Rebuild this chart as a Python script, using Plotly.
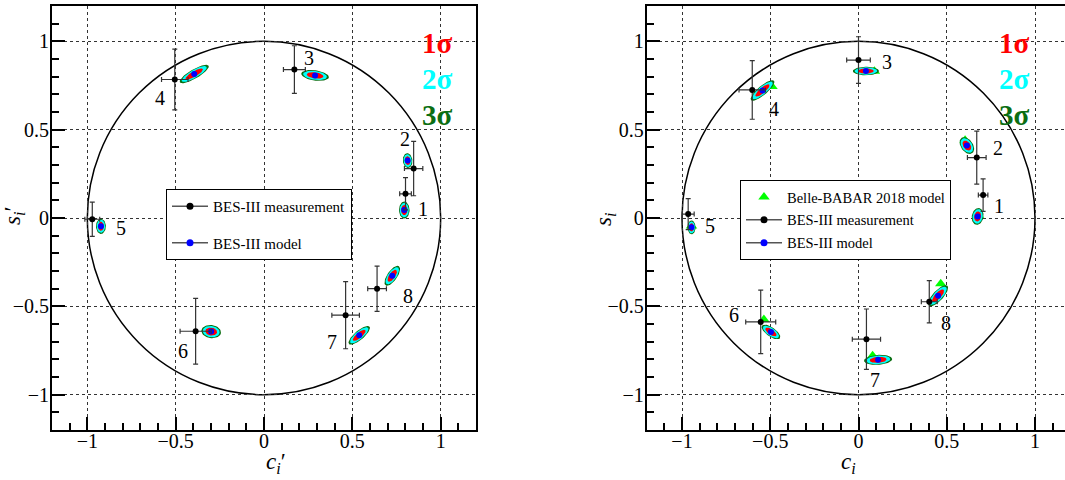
import numpy as np
import plotly.graph_objects as go

W, H = 1065, 480

bins = ["1", "2", "3", "4", "5", "6", "7", "8"]

# ---- left panel: c_i', s_i' ----
cp_meas = [0.801, 0.847, 0.172, -0.505, -0.972, -0.387, 0.462, 0.640]
sp_meas = [0.137, 0.280, 0.840, 0.784, -0.007, -0.641, -0.550, -0.400]
cp_err = [0.033, 0.052, 0.062, 0.075, 0.042, 0.088, 0.078, 0.053]
sp_err = [0.091, 0.154, 0.135, 0.172, 0.097, 0.186, 0.190, 0.128]

cp_model = [0.794, 0.813, 0.289, -0.395, -0.923, -0.299, 0.539, 0.726]
sp_model = [0.045, 0.325, 0.807, 0.815, -0.047, -0.643, -0.664, -0.327]

# 3-sigma contour semi-axes and orientation (degrees) around the model points
cp_ax_major = [0.048, 0.042, 0.079, 0.094, 0.043, 0.056, 0.076, 0.066]
cp_ax_minor = [0.030, 0.027, 0.029, 0.026, 0.028, 0.037, 0.026, 0.028]
cp_ax_angle = [90, 95, -8, 30, 90, -8, 40, 55]

cp_label_x = [0.900, 0.799, 0.255, -0.590, -0.812, -0.460, 0.387, 0.816]
cp_label_y = [0.051, 0.448, 0.904, 0.682, -0.059, -0.752, -0.703, -0.444]

# ---- right panel: c_i, s_i ----
c_meas = [0.706, 0.670, 0.000, -0.602, -0.965, -0.554, 0.045, 0.401]
s_meas = [0.130, 0.342, 0.894, 0.725, 0.022, -0.588, -0.686, -0.474]
c_err = [0.027, 0.053, 0.067, 0.075, 0.034, 0.085, 0.080, 0.045]
s_err = [0.092, 0.150, 0.132, 0.166, 0.088, 0.180, 0.171, 0.120]

c_model = [0.675, 0.614, 0.042, -0.544, -0.946, -0.496, 0.111, 0.451]
s_model = [0.009, 0.410, 0.832, 0.722, -0.053, -0.645, -0.803, -0.440]

c_bb = [0.680, 0.604, 0.090, -0.490, -0.946, -0.536, 0.080, 0.466]
s_bb = [0.015, 0.440, 0.830, 0.745, -0.045, -0.575, -0.780, -0.372]

c_ax_major = [0.048, 0.053, 0.074, 0.085, 0.039, 0.062, 0.080, 0.077]
c_ax_minor = [0.033, 0.034, 0.024, 0.026, 0.023, 0.026, 0.028, 0.029]
c_ax_angle = [80, 125, 0, 40, 90, -35, 4, 47]

c_label_x = [0.795, 0.793, 0.163, -0.480, -0.842, -0.708, 0.092, 0.494]
c_label_y = [0.070, 0.397, 0.885, 0.618, -0.047, -0.548, -0.917, -0.592]

sigma_levels = ["3σ", "2σ", "1σ"]
sigma_scale = [1.0, 0.86, 0.60]
sigma_colors = {"1σ": "#ff0000", "2σ": "#00ffff", "3σ": "#0b6e12"}

FONT = "Liberation Serif, Times New Roman, serif"


def ellipse_paths(cx, cy, a, b, ang, k):
    xs, ys = [], []
    t = np.linspace(0, 2 * np.pi, 60)
    for x0, y0, aa, bb, th in zip(cx, cy, a, b, ang):
        r = np.deg2rad(th)
        ex = aa * k * np.cos(t)
        ey = bb * k * np.sin(t)
        xs += list(x0 + ex * np.cos(r) - ey * np.sin(r)) + [None]
        ys += list(y0 + ex * np.sin(r) + ey * np.cos(r)) + [None]
    return xs, ys


fig = go.Figure()


def add_panel(xa, ya, mx, my, mex, mey, px, py, a, b, ang, legend, bb=None):
    if bb is not None:
        fig.add_trace(go.Scatter(
            x=bb[0], y=bb[1], mode="markers", xaxis=xa, yaxis=ya,
            marker=dict(symbol="triangle-up", size=10, color="#00ff00"),
            showlegend=False, hoverinfo="skip"))
    for lev, k in zip(sigma_levels, sigma_scale):
        ex, ey = ellipse_paths(px, py, a, b, ang, k)
        fig.add_trace(go.Scatter(
            x=ex, y=ey, mode="lines", fill="toself", xaxis=xa, yaxis=ya,
            fillcolor=sigma_colors[lev], line=dict(width=0, color=sigma_colors[lev]),
            showlegend=False, hoverinfo="skip"))
    fig.add_trace(go.Scatter(
        x=px, y=py, mode="markers", xaxis=xa, yaxis=ya,
        marker=dict(size=6, color="#0000ff"), showlegend=False))
    fig.add_trace(go.Scatter(
        x=mx, y=my, mode="markers", xaxis=xa, yaxis=ya,
        marker=dict(size=6, color="black"),
        error_x=dict(type="data", array=mex, color="#333333", thickness=1.2, width=2.5),
        error_y=dict(type="data", array=mey, color="#333333", thickness=1.2, width=2.5),
        showlegend=False))
    # legend-only entries
    if bb is not None:
        fig.add_trace(go.Scatter(
            x=[None], y=[None], mode="markers", xaxis=xa, yaxis=ya,
            marker=dict(symbol="triangle-up", size=10, color="#00ff00"),
            name="Belle-BABAR 2018 model", legend=legend, legendgroup="g0" + legend))
    fig.add_trace(go.Scatter(
        x=[None], y=[None], mode="lines+markers", xaxis=xa, yaxis=ya,
        line=dict(color="#555555", width=1.5), marker=dict(size=7, color="black"),
        name="BES-III measurement", legend=legend, legendgroup="g1" + legend))
    fig.add_trace(go.Scatter(
        x=[None], y=[None], mode="lines+markers", xaxis=xa, yaxis=ya,
        line=dict(color="#555555", width=1.5), marker=dict(size=7, color="#0000ff"),
        name="BES-III model", legend=legend, legendgroup="g2" + legend))


add_panel("x", "y", cp_meas, sp_meas, cp_err, sp_err, cp_model, sp_model,
          cp_ax_major, cp_ax_minor, cp_ax_angle, "legend")
add_panel("x2", "y2", c_meas, s_meas, c_err, s_err, c_model, s_model,
          c_ax_major, c_ax_minor, c_ax_angle, "legend2", bb=(c_bb, s_bb))

axis_style = dict(
    showline=True, linecolor="black", linewidth=2,
    ticks="inside", ticklen=13, tickwidth=1.5, tickcolor="black",
    tick0=0, dtick=0.5,
    minor=dict(ticks="inside", ticklen=7, tickwidth=1.5, tickcolor="black",
               tick0=0, dtick=0.1, showgrid=False),
    showgrid=True, gridcolor="#333333", griddash="dot", gridwidth=1,
    zeroline=False,
    tickfont=dict(family=FONT, size=20, color="black"),
)
x_style = dict(axis_style, ticklabelstandoff=-8)
y_style = dict(axis_style, ticklabelstandoff=-3)

ydom = [1 - 430 / H, 1 - 6 / H]
fig.update_layout(
    width=W, height=H,
    margin=dict(l=0, r=0, t=0, b=0),
    paper_bgcolor="white", plot_bgcolor="white",
    showlegend=True,
    xaxis=dict(domain=[52 / W, 476 / W], range=[-1.2, 1.2], anchor="y", mirror=True, **x_style),
    yaxis=dict(domain=ydom, range=[-1.2, 1.2], anchor="x", mirror=True, **y_style),
    xaxis2=dict(domain=[646.7 / W, 1.0], range=[-1.2, 1.17], anchor="y2", mirror=True, **x_style),
    yaxis2=dict(domain=ydom, range=[-1.2, 1.2], anchor="x2", mirror=False, **y_style),
    legend=dict(x=166 / W, y=1 - 189 / H, xanchor="left", yanchor="top",
                bgcolor="white", bordercolor="black", borderwidth=1,
                font=dict(family=FONT, size=15, color="black"),
                itemwidth=36, tracegroupgap=14),
    legend2=dict(x=740 / W, y=1 - 180 / H, xanchor="left", yanchor="top",
                 bgcolor="white", bordercolor="black", borderwidth=1,
                 font=dict(family=FONT, size=14.5, color="black"),
                 itemwidth=36, tracegroupgap=1),
)

# unit circles
for xr, yr in (("x", "y"), ("x2", "y2")):
    fig.add_shape(type="circle", xref=xr, yref=yr, x0=-1, y0=-1, x1=1, y1=1,
                  line=dict(color="black", width=1.5), layer="below")

annotations = []
for xr, yr, lx, ly in (("x", "y", cp_label_x, cp_label_y), ("x2", "y2", c_label_x, c_label_y)):
    for t, x0, y0 in zip(bins, lx, ly):
        annotations.append(dict(x=x0, y=y0, xref=xr, yref=yr, text=t, showarrow=False,
                                font=dict(family=FONT, size=20, color="black")))

# sigma level key
for cx in (437, 1032):
    for lev, cy in zip(["1σ", "2σ", "3σ"], [25, 61, 97]):
        annotations.append(dict(x=cx / W, y=1 - cy / H, xref="paper", yref="paper",
                                text="<b>" + lev + "</b>", showarrow=False,
                                font=dict(family=FONT, size=29, color=sigma_colors[lev])))

# axis titles
title_font = dict(family=FONT, size=23, color="black")
annotations += [
    dict(x=14 / W, y=1 - 216 / H, xref="paper", yref="paper", textangle=-90,
         xanchor="center", text="<i>s</i><sub><i>i</i></sub>′", showarrow=False, font=title_font),
    dict(x=264 / W, y=1 - 479 / H, xref="paper", yref="paper", yanchor="bottom",
         text="<i>c</i><sub><i>i</i></sub>′", showarrow=False, font=title_font),
    dict(x=605 / W, y=1 - 220 / H, xref="paper", yref="paper", textangle=-90,
         text="<i>s</i><sub><i>i</i></sub>", showarrow=False, font=title_font),
    dict(x=858 / W, y=1 - 479 / H, xref="paper", yref="paper", yanchor="bottom",
         text="<i>c</i><sub><i>i</i></sub>", showarrow=False, font=title_font),
]
fig.update_layout(annotations=annotations)

fig.write_html("out.html")
